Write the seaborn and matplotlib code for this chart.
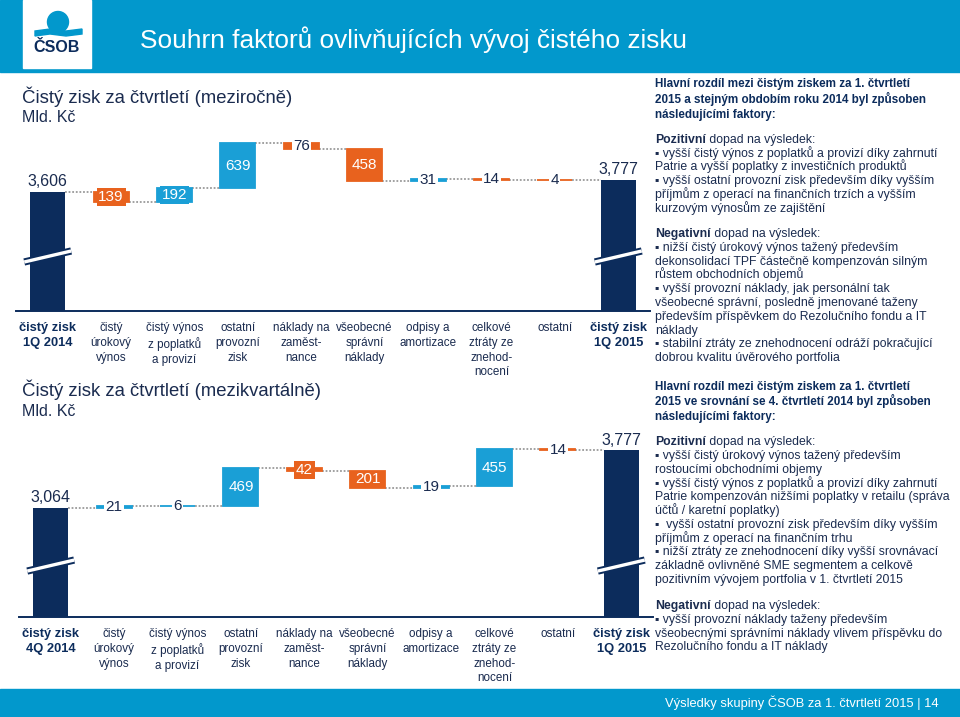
import numpy as np
import pandas as pd
import matplotlib
matplotlib.use("Agg")
import matplotlib.pyplot as plt
import seaborn as sns
from matplotlib.patches import Rectangle, Ellipse, Polygon

# --- data ---------------------------------------------------------------
cats_yoy = ["čistý zisk\n1Q 2014", "čistý\núrokový\nvýnos", "čistý výnos\nz poplatků\na provizí",
            "ostatní\nprovozní\nzisk", "náklady na\nzaměst-\nnance", "všeobecné\nsprávní\nnáklady",
            "odpisy a\namortizace", "celkové\nztráty ze\nznehod-\nnocení", "ostatní", "čistý zisk\n1Q 2015"]
cats_qoq = ["čistý zisk\n4Q 2014"] + cats_yoy[1:]

start_yoy = 3606
delta_yoy = [-139, 192, 639, -76, -458, 31, -14, -4]
end_yoy = 3777

start_qoq = 3064
delta_qoq = [21, 6, 469, -42, -201, 19, 455, -14]
end_qoq = 3777

title = "Souhrn faktorů ovlivňujících vývoj čistého zisku"
sub_yoy = "Čistý zisk za čtvrtletí (meziročně)"
sub_qoq = "Čistý zisk za čtvrtletí (mezikvartálně)"
unit = "Mld. Kč"
footer = "Výsledky skupiny ČSOB za 1. čtvrtletí 2015 | 14"

# right-hand commentary: (y pixel, [(text, kind), ...]); "H" marks header lines
notes = [
    (83, [("Hlavní rozdíl mezi čistým ziskem za 1. čtvrtletí", "H")]),
    (99, [("2015 a stejným obdobím roku 2014 byl způsoben", "H")]),
    (114, [("následujícími faktory:", "H")]),
    (139, [("Pozitivní", True), (" dopad na výsledek:", False)]),
    (153, [("▪ vyšší čistý výnos z poplatků a provizí díky zahrnutí", False)]),
    (166, [("Patrie a vyšší poplatky z investičních produktů", False)]),
    (180, [("▪ vyšší ostatní provozní zisk především díky vyšším", False)]),
    (194, [("příjmům z operací na finančních trzích a vyšším", False)]),
    (208, [("kurzovým výnosům ze zajištění", False)]),
    (233, [("Negativní", True), (" dopad na výsledek:", False)]),
    (247, [("▪ nižší čistý úrokový výnos tažený především", False)]),
    (261, [("dekonsolidací TPF částečně kompenzován silným", False)]),
    (274, [("růstem obchodních objemů", False)]),
    (288, [("▪ vyšší provozní náklady, jak personální tak", False)]),
    (302, [("všeobecné správní, posledně jmenované taženy", False)]),
    (316, [("především příspěvkem do Rezolučního fondu a IT", False)]),
    (330, [("náklady", False)]),
    (343, [("▪ stabilní ztráty ze znehodnocení odráží pokračující", False)]),
    (357, [("dobrou kvalitu úvěrového portfolia", False)]),
    (386, [("Hlavní rozdíl mezi čistým ziskem za 1. čtvrtletí", "H")]),
    (401, [("2015 ve srovnání se 4. čtvrtletí 2014 byl způsoben", "H")]),
    (416, [("následujícími faktory:", "H")]),
    (441, [("Pozitivní", True), (" dopad na výsledek:", False)]),
    (455, [("▪ vyšší čistý úrokový výnos tažený především", False)]),
    (469, [("rostoucími obchodními objemy", False)]),
    (483, [("▪ vyšší čistý výnos z poplatků a provizí díky zahrnutí", False)]),
    (496, [("Patrie kompenzován nižšími poplatky v retailu (správa", False)]),
    (510, [("účtů / karetní poplatky)", False)]),
    (524, [("▪  vyšší ostatní provozní zisk především díky vyšším", False)]),
    (538, [("příjmům z operací na finančním trhu", False)]),
    (551, [("▪ nižší ztráty ze znehodnocení díky vyšší srovnávací", False)]),
    (565, [("základně ovlivněné SME segmentem a celkově", False)]),
    (579, [("pozitivním vývojem portfolia v 1. čtvrtletí 2015", False)]),
    (605, [("Negativní", True), (" dopad na výsledek:", False)]),
    (619, [("▪ vyšší provozní náklady taženy především", False)]),
    (633, [("všeobecnými správními náklady vlivem příspěvku do", False)]),
    (646, [("Rezolučního fondu a IT náklady", False)]),
]

# how each value label is drawn
style_yoy = ["top", "box", "box", "in", "plain", "in", "plain", "plain", "plain", "top"]
style_qoq = ["top", "plain", "plain", "in", "box", "in", "plain", "in", "plain", "top"]

# --- style --------------------------------------------------------------
NAVY = "#0c2c5c"
TEXT = "#1a2b4f"
BLUE = "#1a9fd6"
ORANGE = "#e8621e"
HEAD = "#0298cc"
GREY = "#9a9a9a"
W, H = 960, 717

sns.set_theme(style="white")
plt.rcParams["font.family"] = ["Liberation Sans", "DejaVu Sans"]

fig = plt.figure(figsize=(W / 100, H / 100), dpi=100)


def px_axes(l, t, r, b):
    return fig.add_axes([l / W, 1 - b / H, (r - l) / W, (b - t) / H])


def ftext(x, y, s, **kw):
    return fig.text(x / W, 1 - y / H, s, **kw)


def waterfall(ax, cats, start, deltas, end, styles, ylim, brk):
    deltas = np.array(deltas)
    levels = start + np.cumsum(deltas)
    prev = np.concatenate([[start], levels[:-1]])
    bottoms = [0] + list(np.minimum(prev, levels)) + [0]
    heights = [start] + list(np.abs(deltas)) + [end]
    colors = [NAVY] + [BLUE if d > 0 else ORANGE for d in deltas] + [NAVY]
    df = pd.DataFrame({"cat": cats, "h": heights})
    bw = 0.55
    sns.barplot(data=df, x="cat", y="h", order=cats, bottom=bottoms, color=NAVY,
                width=bw, errorbar=None, ax=ax, zorder=2)
    for i, (p, c) in enumerate(zip(ax.patches, colors)):
        p.set_facecolor(c)
        p.set_edgecolor(c)
        p.set_linewidth(0 if i in (0, len(cats) - 1) else 1.3)
    ax.set_ylim(*ylim)
    ax.set_xlim(-0.5, len(cats) - 0.5)

    # connectors
    run = [start] + list(levels)
    for i in range(len(cats) - 1):
        ax.plot([i + bw / 2, i + 1 - bw / 2], [run[i], run[i]], color=GREY,
                lw=1.3, ls=(0, (1, 1)), zorder=1)

    # value labels
    tops = [start] + list(np.maximum(prev, levels)) + [end]
    for i, st in enumerate(styles):
        val = heights[i]
        mid = bottoms[i] + val / 2
        if st == "top":
            ax.annotate(f"{val:,}", (i, tops[i]), xytext=(0, 2), textcoords="offset points",
                        ha="center", va="bottom", fontsize=11.5, color=TEXT)
        elif st == "in":
            ax.text(i, mid, f"{val}", ha="center", va="center", fontsize=11, color="white", zorder=4)
        elif st == "box":
            ax.text(i, mid, f"{val}", ha="center", va="center", fontsize=11, color="white", zorder=4,
                    bbox=dict(boxstyle="square,pad=0.12", fc=colors[i], ec="none"))
        else:
            ax.text(i, mid, f"{val}", ha="center", va="center", fontsize=11, color=TEXT, zorder=4,
                    bbox=dict(boxstyle="square,pad=0.08", fc="white", ec="none"))

    # axis break marks on the totals
    upp = (ylim[1] - ylim[0]) / (ax.get_position().height * H)
    for i in (0, len(cats) - 1):
        xs = [i - 0.37, i + 0.37]
        ys = [brk - 5.5 * upp, brk + 5.5 * upp]
        ax.plot(xs, ys, color=NAVY, lw=5.2, solid_capstyle="butt", zorder=3)
        ax.plot(xs, ys, color="white", lw=2.4, solid_capstyle="butt", zorder=3)

    sns.despine(ax=ax, left=True)
    ax.spines["bottom"].set_color(NAVY)
    ax.spines["bottom"].set_linewidth(1.4)
    ax.set_yticks([])
    ax.set_xlabel("")
    ax.set_ylabel("")
    ax.set_xticks(range(len(cats)))
    ax.set_xticklabels(cats, fontsize=8.4, color=TEXT, linespacing=1.3)
    for j, lab in enumerate(ax.get_xticklabels()):
        if j in (0, len(cats) - 1):
            lab.set_fontweight("bold")
            lab.set_fontsize(9.3)
            lab.set_color(NAVY)
    ax.tick_params(axis="x", length=0, pad=8)
    ax.patch.set_alpha(0)


ax1 = px_axes(16, 130, 650, 311)
waterfall(ax1, cats_yoy, start_yoy, delta_yoy, end_yoy, style_yoy, (1916, 4486), 2690)

ax2 = px_axes(19, 430, 653, 617)
waterfall(ax2, cats_qoq, start_qoq, delta_qoq, end_qoq, style_qoq, (1712, 4031), 2350)

# header band with logo
fig.add_artist(Rectangle((0, 1 - 72 / H), 1, 72 / H, transform=fig.transFigure,
                         color=HEAD, zorder=0))
fig.add_artist(Rectangle((23 / W, 1 - 68 / H), 68 / W, 68 / H, transform=fig.transFigure,
                         color="white", zorder=1))
fig.add_artist(Ellipse((58 / W, 1 - 22 / H), 21 / W, 21 / H, transform=fig.transFigure,
                       color=HEAD, zorder=2))
band = [(35, 31), (50, 29), (66, 31), (82, 29), (82, 34), (66, 36), (50, 34), (35, 36)]
fig.add_artist(Polygon([(x / W, 1 - y / H) for x, y in band], closed=True,
                       transform=fig.transFigure, color=HEAD, zorder=2))
ftext(57, 47, "ČSOB", ha="center", va="center", fontsize=11.5, fontweight="bold", color=NAVY)
ftext(140, 40, title, ha="left", va="center", fontsize=18.9, color="white")

# footer band
fig.add_artist(Rectangle((0, 0), 1, 28 / H, transform=fig.transFigure, color=HEAD, zorder=0))
ftext(665, 703, footer, ha="left", va="center", fontsize=9.3, color="white")

# chart subtitles
ftext(22, 97, sub_yoy, ha="left", va="center", fontsize=13.3, color=TEXT)
ftext(22, 117, unit, ha="left", va="center", fontsize=11.5, color=TEXT)
ftext(22, 390, sub_qoq, ha="left", va="center", fontsize=13.3, color=TEXT)
ftext(22, 411, unit, ha="left", va="center", fontsize=11.5, color=TEXT)

# commentary on the right (baseline-aligned so every line sits evenly)
renderer = fig.canvas.get_renderer()
for y, parts in notes:
    x = 655
    for txt, kind in parts:
        head = kind == "H"
        t = ftext(x, y + 4, txt, ha="left", va="baseline", fontsize=8.35 if head else 8.8,
                  color=NAVY if head else TEXT,
                  fontweight="bold" if kind else "normal")
        x = t.get_window_extent(renderer).x1

fig.savefig("out.png", dpi=100)
